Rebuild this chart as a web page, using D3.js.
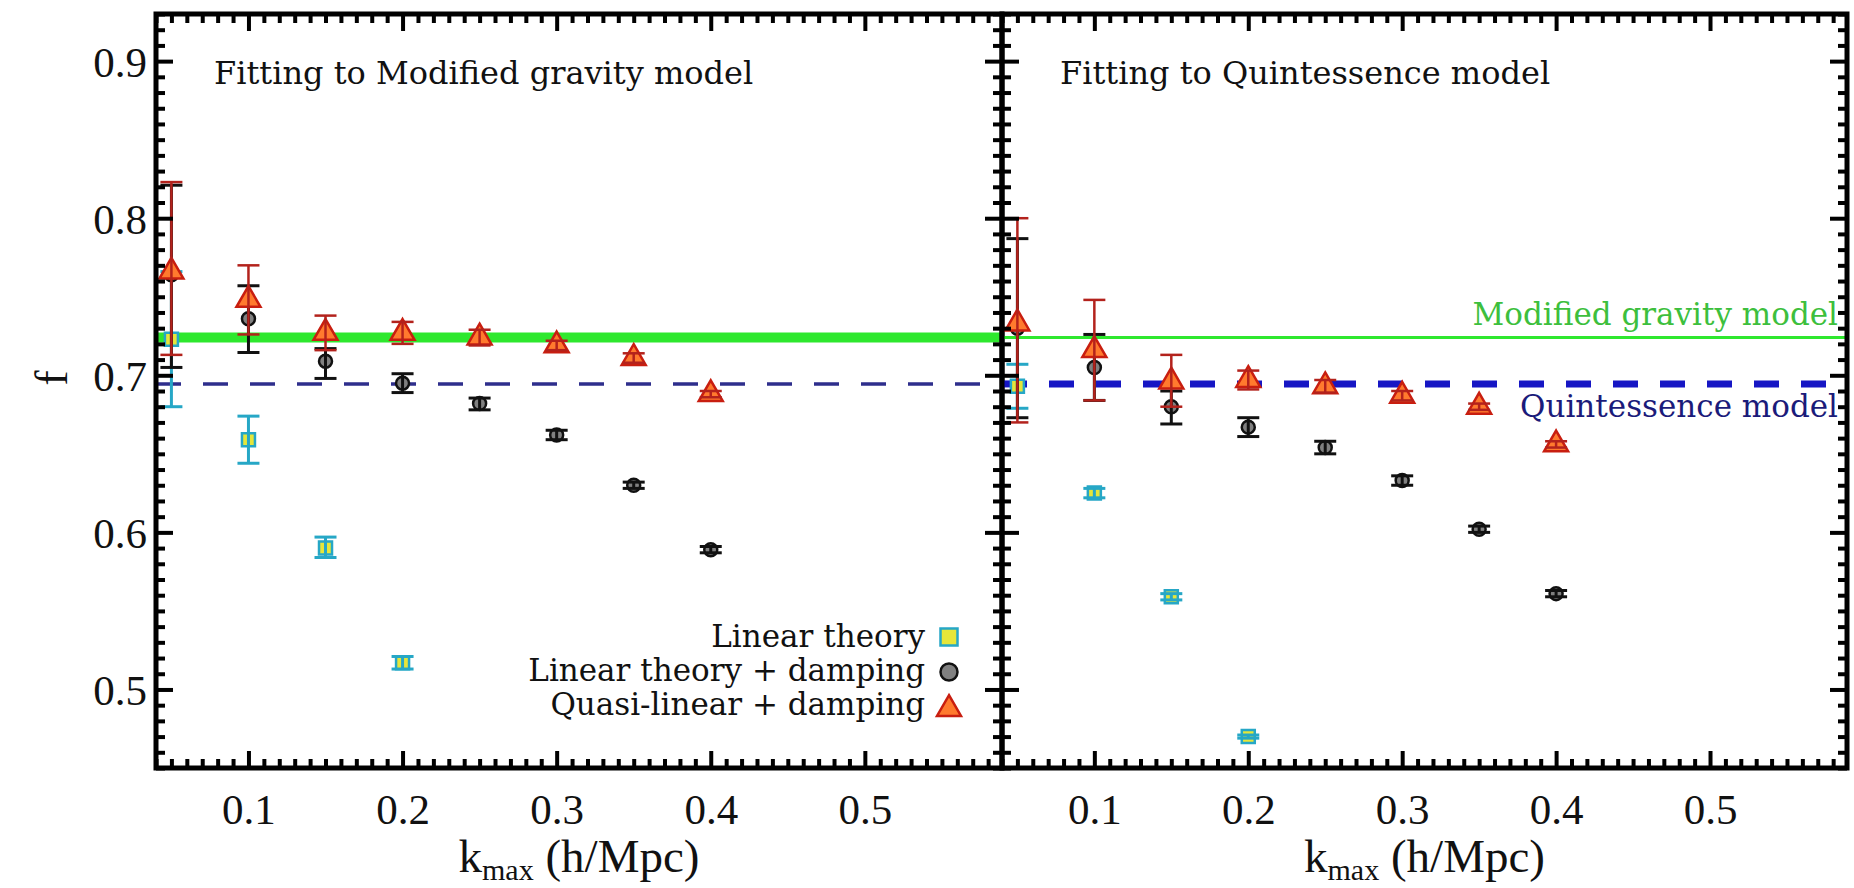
<!DOCTYPE html>
<html><head><meta charset="utf-8">
<script src="https://cdn.jsdelivr.net/npm/d3@7"></script>
<style>body{margin:0;background:#fff;} svg{display:block;}</style>
</head><body><svg id="c" width="1854" height="888"></svg>
<script>
// ---------------- data ----------------
const kLinear = [0.05, 0.10, 0.15, 0.20];
const kDamped = [0.05, 0.10, 0.15, 0.20, 0.25, 0.30, 0.35, 0.40];
const xTickValues = [0.1, 0.2, 0.3, 0.4, 0.5];
const xTickLabels = ["0.1", "0.2", "0.3", "0.4", "0.5"];
const yTickValues = [0.5, 0.6, 0.7, 0.8, 0.9];
const yTickLabels = ["0.5", "0.6", "0.7", "0.8", "0.9"];

// Left panel: fitting to modified gravity model
const mgLinear   = [0.723, 0.659, 0.590, 0.517];
const mgLinearLo = [0.680, 0.644, 0.584, 0.513];
const mgLinearHi = [0.766, 0.674, 0.597, 0.521];
const mgDamp     = [0.764, 0.736, 0.709, 0.695, 0.682, 0.662, 0.630, 0.589];
const mgDampLo   = [0.705, 0.7145, 0.698, 0.689, 0.678, 0.659, 0.628, 0.587];
const mgDampHi   = [0.821, 0.757, 0.717, 0.701, 0.6855, 0.665, 0.632, 0.591];
const mgQuasi    = [0.766, 0.748, 0.727, 0.727, 0.724, 0.719, 0.711, 0.688];
const mgQuasiLo  = [0.713, 0.726, 0.716, 0.720, 0.719, 0.716, 0.708, 0.686];
const mgQuasiHi  = [0.823, 0.770, 0.738, 0.734, 0.729, 0.722, 0.714, 0.690];

// Right panel: fitting to quintessence model
const qLinear    = [0.693, 0.625, 0.559, 0.470];
const qLinearLo  = [0.679, 0.622, 0.557, 0.469];
const qLinearHi  = [0.707, 0.628, 0.561, 0.471];
const qDamp      = [0.730, 0.705, 0.680, 0.667, 0.654, 0.633, 0.602, 0.561];
const qDampLo    = [0.673, 0.684, 0.669, 0.661, 0.650, 0.630, 0.600, 0.559];
const qDampHi    = [0.787, 0.726, 0.690, 0.673, 0.658, 0.636, 0.604, 0.563];
const qQuasi     = [0.733, 0.716, 0.696, 0.697, 0.693, 0.687, 0.680, 0.656];
const qQuasiLo   = [0.670, 0.684, 0.680, 0.691, 0.689, 0.684, 0.678, 0.654];
const qQuasiHi   = [0.800, 0.748, 0.713, 0.703, 0.697, 0.690, 0.682, 0.658];

// Model reference values of f
const modifiedGravityF = 0.724;
const quintessenceF = 0.6945;

const legendLabels = ["Linear theory", "Linear theory + damping", "Quasi-linear + damping"];
const panelTitles = ["Fitting to Modified gravity model", "Fitting to Quintessence model"];

// ---------------- layout ----------------
const svg = d3.select("#c");
const TOP = 14, BOTTOM = 768;
const xDomain = [0.04, 0.589];
const yDomain = [0.45, 0.93];
const y = d3.scaleLinear().domain(yDomain).range([BOTTOM, TOP]);
const SERIF = "'Liberation Serif','Times New Roman',serif";
const SERIF2 = "'DejaVu Serif',serif";

const colors = {
  cyan: "#26a7c6", yellow: "#e6e63a",
  black: "#111111", gray: "#808080",
  red: "#b3221c", orange: "#ff7a2e", redEdge: "#c81e10",
  green: "#2ee82e", navy: "#2e2e8c", blue: "#1616c4",
  greenText: "#3dbf3d", navyText: "#1b1b7a"
};

const panels = [
  { x0: 156, x1: 1002,
    series: [
      {k: kLinear, v: mgLinear, lo: mgLinearLo, hi: mgLinearHi, type: "square"},
      {k: kDamped, v: mgDamp, lo: mgDampLo, hi: mgDampHi, type: "circle"},
      {k: kDamped, v: mgQuasi, lo: mgQuasiLo, hi: mgQuasiHi, type: "triangle"}],
    greenW: 10, dashW: 3.5, dashColor: colors.navy, yLabels: true, title: panelTitles[0] },
  { x0: 1002, x1: 1847,
    series: [
      {k: kLinear, v: qLinear, lo: qLinearLo, hi: qLinearHi, type: "square"},
      {k: kDamped, v: qDamp, lo: qDampLo, hi: qDampHi, type: "circle"},
      {k: kDamped, v: qQuasi, lo: qQuasiLo, hi: qQuasiHi, type: "triangle"}],
    greenW: 3, dashW: 7, dashColor: colors.blue, yLabels: false, title: panelTitles[1] }
];

const style = {
  square:   {fill: colors.yellow, stroke: colors.cyan, err: colors.cyan, size: 13*13, errW: 3},
  circle:   {fill: colors.gray, stroke: colors.black, err: colors.black, size: Math.PI*6.5*6.5, errW: 3},
  triangle: {fill: colors.orange, stroke: colors.redEdge, err: colors.red, size: Math.sqrt(3)/4*24*24, errW: 2.5}
};
const symType = {square: d3.symbolSquare, circle: d3.symbolCircle, triangle: d3.symbolTriangle};

const xMinor = d3.range(4, 59).map(d => d / 100).filter(d => Math.round(d*100) % 10 !== 0);
const yMinor = d3.range(45, 94).map(d => d / 100).filter(d => Math.round(d*100) % 10 !== 0);
const MAJ = 17, MIN = 9;

function styleAxis(g) {
  g.select(".domain").remove();
  g.selectAll(".tick line").attr("stroke", "#000").attr("stroke-width", 4);
}

panels.forEach((p, pi) => {
  const x = d3.scaleLinear().domain(xDomain).range([p.x0, p.x1]);
  const g = svg.append("g");

  // reference model lines
  g.append("line").attr("x1", p.x0).attr("x2", p.x1)
    .attr("y1", y(modifiedGravityF)).attr("y2", y(modifiedGravityF))
    .attr("stroke", colors.green).attr("stroke-width", p.greenW);
  g.append("line").attr("x1", p.x0).attr("x2", p.x1)
    .attr("y1", y(quintessenceF)).attr("y2", y(quintessenceF))
    .attr("stroke", p.dashColor).attr("stroke-width", p.dashW)
    .attr("stroke-dasharray", "25,22");

  // each series: markers, then error bars drawn over them
  p.series.forEach(s => {
    const st = style[s.type];
    const sym = d3.symbol().type(symType[s.type]).size(st.size);
    g.append("g").selectAll("path").data(s.k.map((k, i) => [k, s.v[i]])).join("path")
      .attr("d", sym)
      .attr("transform", d => `translate(${x(d[0])},${y(d[1])})`)
      .attr("fill", st.fill).attr("stroke", st.stroke).attr("stroke-width", 2.5);
    const eg = g.append("g").attr("stroke", st.err).attr("stroke-width", st.errW);
    s.k.forEach((k, i) => {
      const cx = x(k), cap = 11;
      eg.append("line").attr("x1", cx).attr("x2", cx).attr("y1", y(s.lo[i])).attr("y2", y(s.hi[i]));
      eg.append("line").attr("x1", cx-cap).attr("x2", cx+cap).attr("y1", y(s.lo[i])).attr("y2", y(s.lo[i]));
      eg.append("line").attr("x1", cx-cap).attr("x2", cx+cap).attr("y1", y(s.hi[i])).attr("y2", y(s.hi[i]));
    });
  });

  // axes (ticks inward)
  const gb = svg.append("g").attr("transform", `translate(0,${BOTTOM})`);
  gb.append("g").call(d3.axisBottom(x).tickValues(xMinor).tickSize(-MIN).tickFormat("")).call(styleAxis);
  gb.append("g").call(d3.axisBottom(x).tickValues(xTickValues).tickSize(-MAJ)
      .tickFormat((d, i) => xTickLabels[i])).call(styleAxis)
    .call(a => a.selectAll("text").attr("y", 56).attr("dy", 0)
      .attr("font-family", SERIF).attr("font-size", 43).attr("fill", "#111"));
  const gt = svg.append("g").attr("transform", `translate(0,${TOP})`);
  gt.append("g").call(d3.axisTop(x).tickValues(xMinor).tickSize(-MIN).tickFormat("")).call(styleAxis);
  gt.append("g").call(d3.axisTop(x).tickValues(xTickValues).tickSize(-MAJ).tickFormat("")).call(styleAxis);

  const gl = svg.append("g").attr("transform", `translate(${p.x0},0)`);
  gl.append("g").call(d3.axisLeft(y).tickValues(yMinor).tickSize(-MIN).tickFormat("")).call(styleAxis);
  gl.append("g").call(d3.axisLeft(y).tickValues(yTickValues).tickSize(-MAJ)
      .tickFormat((d, i) => p.yLabels ? yTickLabels[i] : "")).call(styleAxis)
    .call(a => a.selectAll("text").attr("x", -9).attr("dy", "0.36em")
      .attr("font-family", SERIF).attr("font-size", 43).attr("fill", "#111"));
  const gr = svg.append("g").attr("transform", `translate(${p.x1},0)`);
  gr.append("g").call(d3.axisRight(y).tickValues(yMinor).tickSize(-MIN).tickFormat("")).call(styleAxis);
  gr.append("g").call(d3.axisRight(y).tickValues(yTickValues).tickSize(-MAJ).tickFormat("")).call(styleAxis);

  // frame
  svg.append("rect").attr("x", p.x0).attr("y", TOP).attr("width", p.x1 - p.x0).attr("height", BOTTOM - TOP)
    .attr("fill", "none").attr("stroke", "#000").attr("stroke-width", 5);

  // panel title
  svg.append("text").attr("x", p.x0 + 58).attr("y", 84)
    .attr("font-family", SERIF2).attr("font-size", 32).attr("fill", "#111").text(p.title);

  // x axis title
  const xt = svg.append("text").attr("x", (p.x0 + p.x1) / 2).attr("y", 872)
    .attr("text-anchor", "middle").attr("font-family", SERIF).attr("font-size", 47).attr("fill", "#111");
  xt.append("tspan").text("k");
  xt.append("tspan").attr("font-size", 30).attr("dy", 8).text("max");
  xt.append("tspan").attr("dy", -8).text(" (h/Mpc)");
});

// y axis title
svg.append("text").attr("transform", "translate(67,378) rotate(-90)")
  .attr("text-anchor", "middle").attr("font-family", SERIF).attr("font-size", 46).attr("fill", "#111").text("f");

// legend (left panel)
const legendTypes = ["square", "circle", "triangle"];
const legendBase = [647, 681, 715];
const legendCy = [637, 672, 709];
const legendSize = {square: 17*17, circle: Math.PI*8.5*8.5, triangle: Math.sqrt(3)/4*24*24};
legendLabels.forEach((lab, i) => {
  svg.append("text").attr("x", 925).attr("y", legendBase[i]).attr("text-anchor", "end")
    .attr("font-family", SERIF2).attr("font-size", 31).attr("fill", "#111").text(lab);
  const t = legendTypes[i], st = style[t];
  svg.append("path").attr("d", d3.symbol().type(symType[t]).size(legendSize[t]))
    .attr("transform", `translate(949,${legendCy[i]})`)
    .attr("fill", st.fill).attr("stroke", st.stroke).attr("stroke-width", 2.5);
});

// model line labels (right panel)
svg.append("text").attr("x", 1838).attr("y", 325).attr("text-anchor", "end")
  .attr("font-family", SERIF2).attr("font-size", 31).attr("fill", colors.greenText).text("Modified gravity model");
svg.append("text").attr("x", 1838).attr("y", 417).attr("text-anchor", "end")
  .attr("font-family", SERIF2).attr("font-size", 31).attr("fill", colors.navyText).text("Quintessence model");
</script>
</body></html>
